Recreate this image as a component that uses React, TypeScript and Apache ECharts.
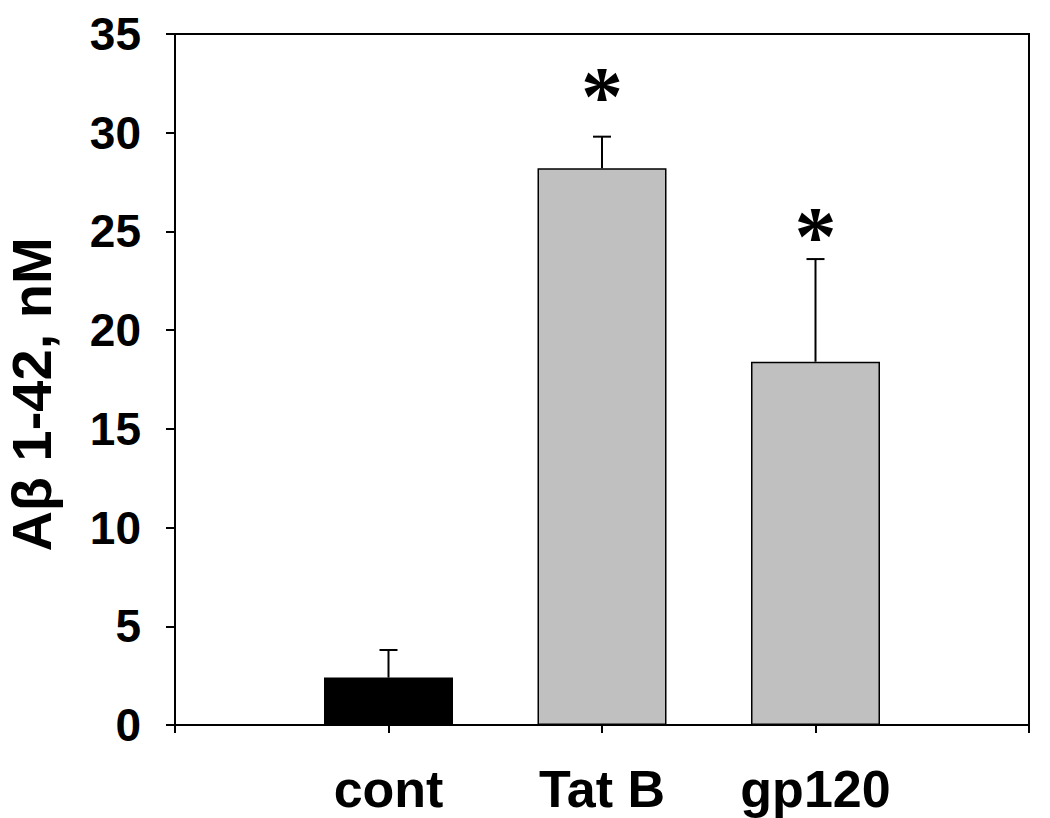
import React, { useEffect, useRef } from "react";
import * as echarts from "echarts";

const categories = ["cont", "Tat B", "gp120"];
const means = [2.4, 28.2, 18.4];
const errors = [1.4, 1.6, 5.2];
const barColors = ["#000000", "#c0c0c0", "#c0c0c0"];
const sigMarkY: (number | null)[] = [null, 32.4, 25.3];
const yMin = 0;
const yMax = 35;
const yStep = 5;
const yTitle = "Aβ 1-42, nM";

export default function App() {
  const ref = useRef<HTMLDivElement>(null);
  useEffect(() => {
    if (!ref.current) return;
    const chart = echarts.init(ref.current, undefined, { renderer: "svg" });
    const axisData = ["", ...categories, ""];
    const barData: any[] = ["-"];
    means.forEach((v, i) =>
      barData.push({
        value: v,
        itemStyle: { color: barColors[i], borderColor: "#000", borderWidth: 1.5 },
      })
    );
    barData.push("-");
    const errData = means.map((m, i) => [i + 1, m, m + errors[i], sigMarkY[i] ?? -1]);
    const font = "'Liberation Sans', Arial, Helvetica, sans-serif";
    chart.setOption({
      animation: false,
      grid: {
        left: 175,
        right: 21,
        top: 34,
        bottom: 93,
        show: true,
        borderColor: "#000",
        borderWidth: 2,
        containLabel: false,
        outerBoundsMode: "none",
      },
      xAxis: {
        type: "category",
        data: axisData,
        boundaryGap: false,
        axisLine: { lineStyle: { color: "#000", width: 2 } },
        axisTick: { show: true, inside: false, length: 8, lineStyle: { color: "#000", width: 2 }, alignWithLabel: true },
        axisLabel: {
          color: "#000",
          fontSize: 52,
          fontWeight: "bold",
          fontFamily: font,
          margin: 38,
          interval: 0,
        },
        splitLine: { show: false },
      },
      yAxis: {
        type: "value",
        min: yMin,
        max: yMax,
        interval: yStep,
        name: yTitle,
        nameLocation: "middle",
        nameGap: 116,
        nameTextStyle: {
          color: "#000",
          fontSize: 56,
          fontWeight: "bold",
          fontFamily: font,
          padding: [0, 30, 0, 0],
        },
        axisLine: { show: true, lineStyle: { color: "#000", width: 2 } },
        axisTick: { show: true, inside: false, length: 9, lineStyle: { color: "#000", width: 2 } },
        axisLabel: { color: "#000", fontSize: 46, fontWeight: "bold", fontFamily: font, margin: 34 },
        splitLine: { show: false },
      },
      series: [
        {
          type: "bar",
          data: barData,
          barWidth: 129,
          z: 2,
        },
        {
          type: "custom",
          data: errData,
          z: 3,
          renderItem: (params: any, api: any) => {
            const x = api.value(0);
            const base = api.coord([x, api.value(1)]);
            const top = api.coord([x, api.value(2)]);
            const half = 9;
            const children: any[] = [
              { type: "line", shape: { x1: base[0], y1: base[1], x2: top[0], y2: top[1] }, style: { stroke: "#000", lineWidth: 2 } },
              { type: "line", shape: { x1: top[0] - half, y1: top[1], x2: top[0] + half, y2: top[1] }, style: { stroke: "#000", lineWidth: 2 } },
            ];
            const s = api.value(3);
            if (s >= 0) {
              const p = api.coord([x, s]);
              children.push({
                type: "text",
                x: p[0],
                y: p[1] + 11,
                style: {
                  text: "*",
                  font: "bold 84px 'Liberation Serif', 'Times New Roman', serif",
                  fill: "#000",
                  textAlign: "center",
                  textVerticalAlign: "middle",
                },
              });
            }
            return { type: "group", children };
          },
        },
      ],
    });
    return () => chart.dispose();
  }, []);
  return <div ref={ref} style={{ position: "absolute", left: 0, top: 0, width: 1050, height: 818 }} />;
}
